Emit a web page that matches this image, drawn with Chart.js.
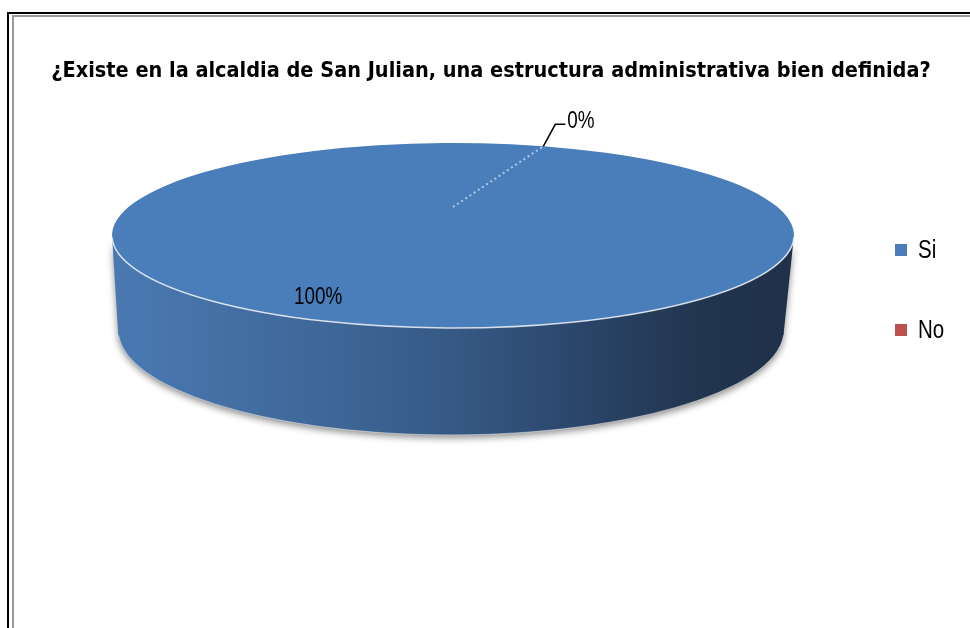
<!DOCTYPE html>
<html>
<head>
<meta charset="utf-8">
<script src="https://cdn.jsdelivr.net/npm/chart.js@4.4.0/dist/chart.umd.min.js"></script>
<style>
  html, body { margin: 0; padding: 0; background: #fff; overflow: hidden; }
  #frameOuter { position: absolute; left: 7px; top: 12px; width: 2000px; height: 2000px;
                border-left: 2px solid #000; border-top: 2px solid #000; }
  #frameInner { position: absolute; left: 12px; top: 15px; width: 2000px; height: 2000px;
                border-left: 2px solid #9a9a9a; border-top: 2px solid #9a9a9a; }
  #chart { position: absolute; left: 0; top: 0; }
</style>
</head>
<body>
<div id="frameOuter"></div>
<div id="frameInner"></div>
<canvas id="chart" width="970" height="628"></canvas>
<script>
// data
var categories = ['Si', 'No'];
var percentages = [100, 0];
var sliceColors = ['#4a7ebb', '#c0504d'];
var titleText = '¿Existe en la alcaldia de San Julian, una estructura administrativa bien definida?';

var condensed = "'DejaVu Sans Condensed', 'Liberation Sans', sans-serif";
var plain = "'Liberation Sans', Arial, sans-serif";
var narrowScale = 0.82;   // squeeze Liberation Sans to look like a narrow face

// fake 3d view of the pie (top ellipse + base ellipse of the wall)
var view3d = {
    cx: 453, cy: 235.5, rx: 341, ry: 92.5, persp: -0.308,
    base: { cx: 451, cy: 330, rx: 333, ry: 105 }
};

// perspective mapping of a point of the unit pie onto the top ellipse
function project(theta, r) {
    var c = view3d.persp;
    var a = view3d.ry + view3d.cy * c;
    var b = view3d.cy + view3d.ry * c;
    var k = view3d.rx * Math.sqrt(1 - c * c);
    var u = r * Math.cos(theta), v = r * Math.sin(theta);
    var d = 1 + c * v;
    return { x: view3d.cx + k * u / d, y: (a * v + b) / d };
}

function narrowText(ctx, txt, x, y) {
    ctx.save();
    ctx.translate(x, y);
    ctx.scale(narrowScale, 1);
    ctx.fillText(txt, 0, 0);
    ctx.restore();
}

var pie3d = {
    id: 'pie3d',
    beforeDatasetsDraw: function (chart) {
        var ctx = chart.ctx, t = view3d, s = t.base;

        // side wall
        ctx.save();
        var g = ctx.createLinearGradient(t.cx - t.rx, 0, t.cx + t.rx, 0);
        g.addColorStop(0, '#4a79b2');
        g.addColorStop(0.3, '#3f6899');
        g.addColorStop(0.5, '#365985');
        g.addColorStop(0.7, '#2a4468');
        g.addColorStop(0.85, '#223650');
        g.addColorStop(1, '#1f3048');
        ctx.beginPath();
        ctx.ellipse(t.cx, t.cy, t.rx, t.ry, 0, 0, Math.PI, false);
        ctx.lineTo(s.cx - s.rx, s.cy);
        ctx.ellipse(s.cx, s.cy, s.rx, s.ry, 0, Math.PI, 0, true);
        ctx.closePath();
        ctx.shadowColor = 'rgba(0,0,0,0.45)';
        ctx.shadowBlur = 7;
        ctx.shadowOffsetY = 3;
        ctx.fillStyle = g;
        ctx.fill();
        ctx.restore();

        ctx.save();
        ctx.beginPath();
        ctx.ellipse(s.cx, s.cy, s.rx, s.ry, 0, 0.05, Math.PI - 0.05, false);
        ctx.strokeStyle = 'rgba(255,255,255,0.45)';
        ctx.lineWidth = 1;
        ctx.stroke();
        ctx.restore();

        // squash the round pie into the top face
        var arc = chart.getDatasetMeta(0).data[0];
        ctx.save();
        ctx.translate(t.cx, t.cy);
        ctx.scale(t.rx / arc.outerRadius, t.ry / arc.outerRadius);
        ctx.translate(-arc.x, -arc.y);
    },
    afterDatasetsDraw: function (chart) {
        var ctx = chart.ctx, t = view3d;
        ctx.restore();

        // light rim on the front edge
        ctx.save();
        ctx.beginPath();
        ctx.ellipse(t.cx, t.cy, t.rx, t.ry, 0, 0.02, Math.PI - 0.02, false);
        ctx.strokeStyle = 'rgba(235,240,245,0.85)';
        ctx.lineWidth = 1.5;
        ctx.stroke();
        ctx.restore();

        var meta = chart.getDatasetMeta(0);

        // slice boundary of the empty slice
        var edge = meta.data[1].startAngle;
        var p0 = project(edge, 0), p1 = project(edge, 1);
        ctx.save();
        ctx.beginPath();
        ctx.moveTo(p0.x, p0.y);
        ctx.lineTo(p1.x, p1.y);
        ctx.setLineDash([2, 3]);
        ctx.strokeStyle = 'rgba(190,208,232,0.9)';
        ctx.lineWidth = 2;
        ctx.stroke();
        ctx.restore();

        // data labels
        ctx.save();
        ctx.font = '23px ' + plain;
        ctx.fillStyle = '#000';
        ctx.textBaseline = 'middle';
        var total = percentages.reduce(function (s, v) { return s + v; }, 0);
        meta.data.forEach(function (el, i) {
            var txt = Math.round(percentages[i] / total * 100) + '%';
            if (percentages[i] > 0) {
                var mid = (el.startAngle + el.endAngle) / 2;
                var p = project(mid, 0.87);
                ctx.textAlign = 'center';
                narrowText(ctx, txt, p.x, p.y);
            } else {
                var q = project(el.startAngle, 1);
                ctx.beginPath();
                ctx.moveTo(q.x, q.y);
                ctx.lineTo(q.x + 12, q.y - 22);
                ctx.lineTo(q.x + 22, q.y - 22);
                ctx.strokeStyle = '#000';
                ctx.lineWidth = 1.5;
                ctx.stroke();
                ctx.textAlign = 'left';
                narrowText(ctx, txt, q.x + 24, q.y - 25);
            }
        });
        ctx.restore();
    },
    afterDraw: function (chart) {
        // legend
        var ctx = chart.ctx;
        ctx.save();
        ctx.font = '25px ' + plain;
        ctx.textBaseline = 'middle';
        ctx.textAlign = 'left';
        categories.forEach(function (lab, i) {
            var y = 250 + i * 80;
            ctx.fillStyle = sliceColors[i];
            ctx.fillRect(895, y - 6, 12, 12);
            ctx.fillStyle = '#000';
            narrowText(ctx, lab, 918, y + 1);
        });
        ctx.restore();
    }
};

new Chart(document.getElementById('chart'), {
    type: 'pie',
    data: {
        labels: categories,
        datasets: [{
            data: percentages,
            backgroundColor: sliceColors,
            borderWidth: 0
        }]
    },
    options: {
        responsive: false,
        animation: false,
        rotation: 21,
        layout: { padding: { left: 12, top: 0, right: 0, bottom: 0 } },
        plugins: {
            title: {
                display: true,
                text: titleText,
                color: '#000',
                font: { family: condensed, size: 21.5, weight: 'bold' },
                padding: { top: 59, bottom: 20 }
            },
            legend: { display: false },
            tooltip: { enabled: false }
        }
    },
    plugins: [pie3d]
});
</script>
</body>
</html>
